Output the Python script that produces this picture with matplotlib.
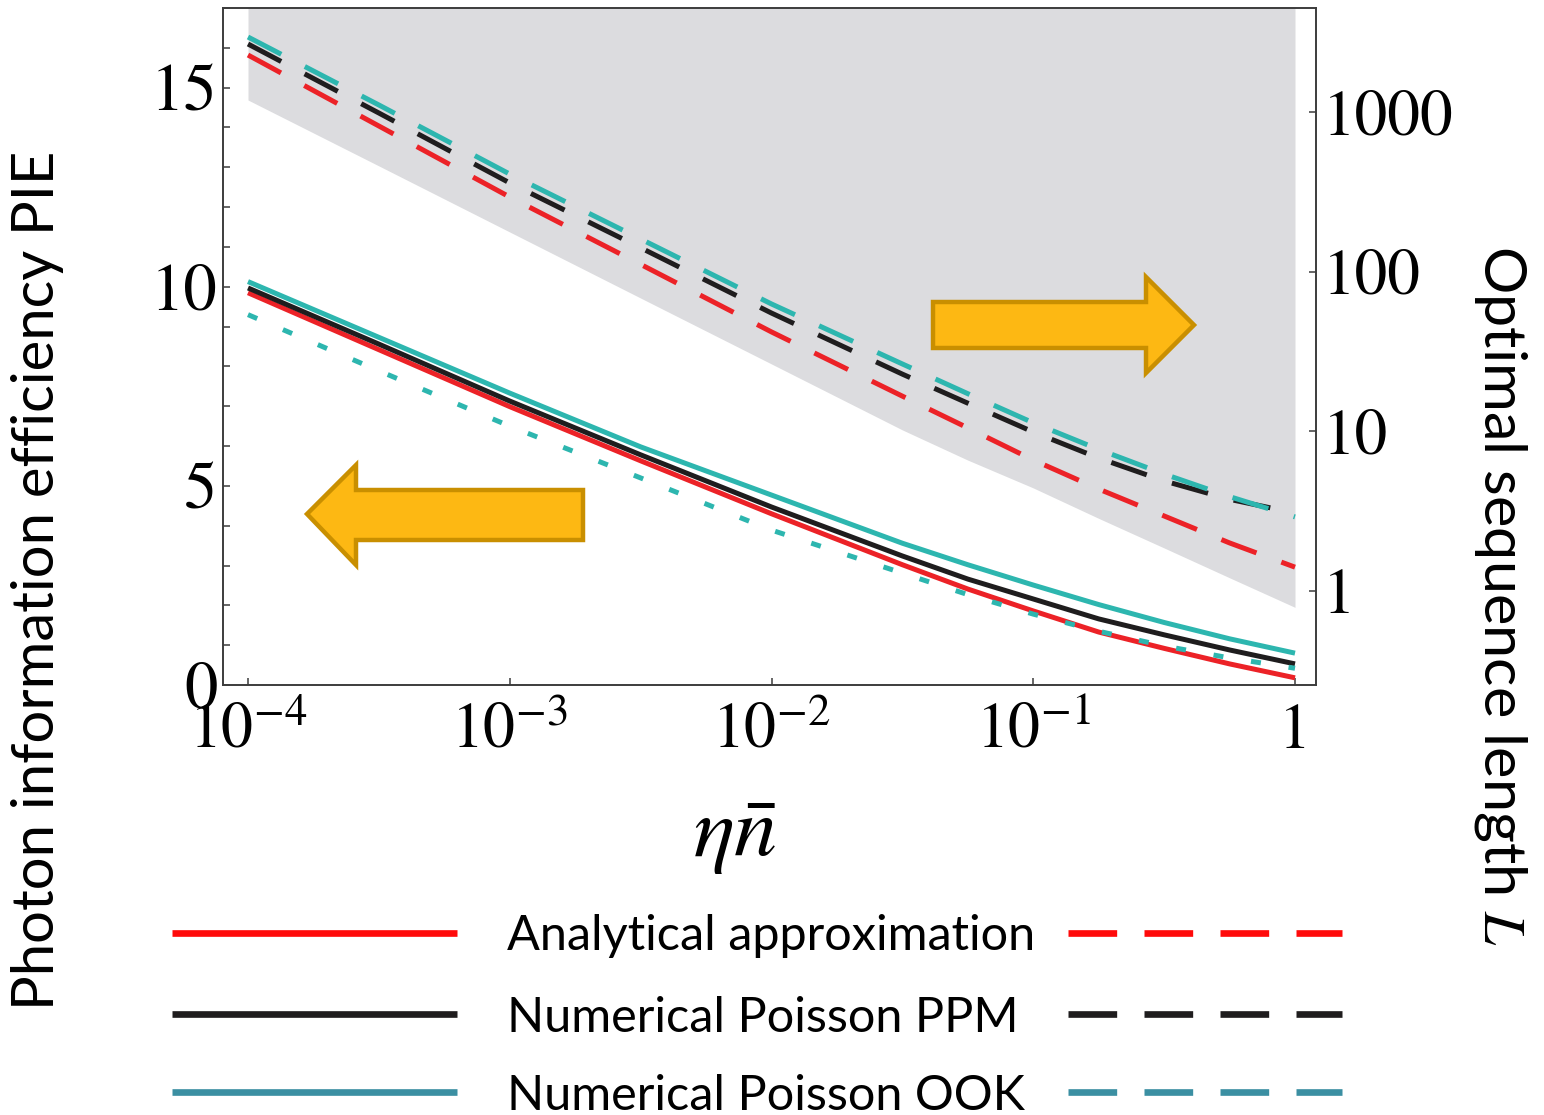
import numpy as np
import matplotlib
matplotlib.use('Agg')
import matplotlib.pyplot as plt
from matplotlib.lines import Line2D
from matplotlib.patches import Polygon
from matplotlib import font_manager
from matplotlib.ticker import FixedLocator, MultipleLocator, FuncFormatter, NullLocator

# ---------------- data ----------------
eta_n = [1e-4, 10**-3.5, 1e-3, 10**-2.5, 1e-2, 10**-1.5, 10**-1.25, 1e-1,
         10**-0.75, 10**-0.5, 10**-0.25, 1.0]

# Photon information efficiency (left axis)
pie_analytical = [9.85, 8.42, 6.99, 5.63, 4.30, 3.02, 2.41, 1.86, 1.33, 0.92, 0.53, 0.18]
pie_ppm        = [9.97, 8.56, 7.13, 5.78, 4.47, 3.24, 2.66, 2.16, 1.66, 1.26, 0.88, 0.53]
pie_ook        = [10.13, 8.73, 7.33, 5.98, 4.77, 3.56, 3.02, 2.51, 2.02, 1.57, 1.16, 0.80]
pie_ook_dotted = [9.30, 7.89, 6.50, 5.20, 3.89, 2.81, 2.27, 1.78, 1.35, 0.98, 0.68, 0.42]

# Optimal sequence length L (right axis)
L_analytical = [2271, 816, 293, 111, 41.9, 16.6, 10.5, 6.61, 4.35, 2.95, 2.0, 1.41]
L_ppm        = [2662, 984, 359, 141, 55.0, 22.8, 15.0, 9.9, 6.8, 4.89, 3.75, 3.08]
L_ook        = [2944, 1105, 408, 160, 62.7, 26.4, 17.2, 11.3, 7.7, 5.4, 3.9, 2.91]
L_region_low = [1187, 459, 177, 68.3, 26.4, 10.2, 6.6, 4.42, 2.85, 1.86, 1.21, 0.79]
L_region_top = 1e6

left_ticks = [0, 5, 10, 15]
right_ticks = [1, 10, 100, 1000]
x_ticks = [1e-4, 1e-3, 1e-2, 1e-1, 1]

legend_labels = ["Analytical approximation", "Numerical Poisson PPM", "Numerical Poisson OOK"]

# ---------------- styling ----------------
RED = '#ec2227'
BLACK = '#1f1d1e'
TEAL = '#2db6af'
LEG_RED = '#ff0a0a'
LEG_TEAL = '#3b8fa2'
GRAY = '#dcdcdf'
SPINE = '#3c3c3c'


def has_font(name):
    try:
        font_manager.findfont(font_manager.FontProperties(family=name), fallback_to_default=False)
        return True
    except Exception:
        return False


SANS = 'Lato' if has_font('Lato') else 'DejaVu Sans'

plt.rcParams['font.family'] = 'STIXGeneral'
plt.rcParams['mathtext.fontset'] = 'stix'

W, H = 1544, 1115
fig = plt.figure(figsize=(W / 100, H / 100), dpi=100)
AX_L, AX_R, AX_T, AX_B = 223, 1316, 8, 685
ax = fig.add_axes([AX_L / W, 1 - AX_B / H, (AX_R - AX_L) / W, (AX_B - AX_T) / H])
ax2 = ax.twinx()

ax.set_xscale('log')
ax.set_xlim(10 ** -4.0955, 10 ** 0.0802)
ax.set_ylim(0, 17.0)
ax2.set_yscale('log')
ax2.set_ylim(10 ** -0.5886, 10 ** 3.6506)

# shaded region (right axis)
ax2.fill_between(eta_n, L_region_low, L_region_top, color=GRAY, lw=0, zorder=0)

# dashed L curves (right axis)
dash = (7.5, 5.3)
lw = 3.6
ax2.plot(eta_n, L_analytical, color=RED, lw=lw, dashes=dash, zorder=2)
ax2.plot(eta_n, L_ppm, color=BLACK, lw=lw, dashes=dash, zorder=3)
ax2.plot(eta_n, L_ook, color=TEAL, lw=lw, dashes=dash, zorder=4)

# solid PIE curves (left axis) drawn above
ax.set_zorder(ax2.get_zorder() + 1)
ax.patch.set_visible(False)
ax.plot(eta_n, pie_analytical, color=RED, lw=lw, zorder=2, solid_capstyle='butt')
ax.plot(eta_n, pie_ppm, color=BLACK, lw=lw, zorder=3, solid_capstyle='butt')
ax.plot(eta_n, pie_ook, color=TEAL, lw=lw, zorder=4, solid_capstyle='butt')
ax.plot(eta_n, pie_ook_dotted, color=TEAL, lw=lw, dashes=(2.0, 5.6), zorder=5)

# ticks & spines
for a in (ax, ax2):
    for s in a.spines.values():
        s.set_color(SPINE)
        s.set_linewidth(1.2)

ax.xaxis.set_major_locator(FixedLocator(x_ticks))
ax.xaxis.set_minor_locator(NullLocator())
ax.xaxis.set_major_formatter(FuncFormatter(
    lambda v, p: '1' if abs(v - 1) < 1e-9 else r'$10^{%d}$' % int(round(np.log10(v)))))
ax.yaxis.set_major_locator(FixedLocator(left_ticks))
ax.yaxis.set_minor_locator(MultipleLocator(1))
ax.tick_params(axis='both', which='both', direction='in', length=5, width=1.1,
               color=SPINE, top=False, right=False)
ax.tick_params(axis='y', labelsize=48, pad=4)
ax.tick_params(axis='x', labelsize=46, pad=13)

ax2.yaxis.set_major_locator(FixedLocator(right_ticks))
ax2.yaxis.set_minor_locator(NullLocator())
ax2.yaxis.set_major_formatter(FuncFormatter(lambda v, p: '%d' % int(round(v))))
ax2.tick_params(axis='y', which='both', direction='in', length=5, width=1.1,
                color=SPINE, labelsize=47, pad=5)

# arrows (axes-fraction coordinates from pixel layout)
def px2ax(pts):
    return [((x - AX_L) / (AX_R - AX_L), (AX_B - y) / (AX_B - AX_T)) for x, y in pts]

right_arrow = [(933, 302), (1146, 302), (1146, 277), (1194, 325), (1146, 373), (1146, 348), (933, 348)]
left_arrow = [(583, 490), (356, 490), (356, 465), (307, 514), (356, 565), (356, 540), (583, 540)]
for pts in (right_arrow, left_arrow):
    ax.add_patch(Polygon(px2ax(pts), closed=True, transform=ax.transAxes,
                         facecolor='#fdb813', edgecolor='#c98f00', lw=3.2,
                         joinstyle='miter', zorder=10, clip_on=False))

renderer = fig.canvas.get_renderer()


def fit(t, target):
    bb = t.get_window_extent(renderer)
    L = max(bb.width, bb.height)
    t.set_fontsize(t.get_fontsize() * target / L)


# axis labels
fig.text(735 / W, 1 - 838 / H, r'$\eta\bar{n}$', fontsize=62, ha='center', va='center')
yl = fig.text(38 / W, 1 - 580 / H, 'Photon information efficiency PIE', rotation=90,
              family=SANS, fontsize=40, ha='center', va='center')
fit(yl, 860)
yr = fig.text(1500 / W, 1 - 595 / H, 'Optimal sequence length $L$', rotation=-90,
              family=SANS, fontsize=40, ha='center', va='center')
fit(yr, 700)

# custom legend
rows_y = [933, 1014, 1092]
base_y = [950, 1032, 1110]
solid_cols = [LEG_RED, BLACK, LEG_TEAL]
for yy, col in zip(rows_y, solid_cols):
    fig.add_artist(Line2D([172 / W, 457 / W], [1 - yy / H] * 2, transform=fig.transFigure,
                          color=col, lw=4.8, solid_capstyle='butt'))
    fig.add_artist(Line2D([1068 / W, 1342 / W], [1 - yy / H] * 2, transform=fig.transFigure,
                          color=col, lw=4.8, dashes=(7.3, 4.1), dash_capstyle='butt'))
texts = []
for by, lab in zip(base_y, legend_labels):
    texts.append(fig.text(507 / W, 1 - by / H, lab, family=SANS, fontsize=36,
                          ha='left', va='baseline'))
fit(texts[0], 530)
for t in texts[1:]:
    t.set_fontsize(texts[0].get_fontsize())

fig.savefig('out.png', dpi=100)
